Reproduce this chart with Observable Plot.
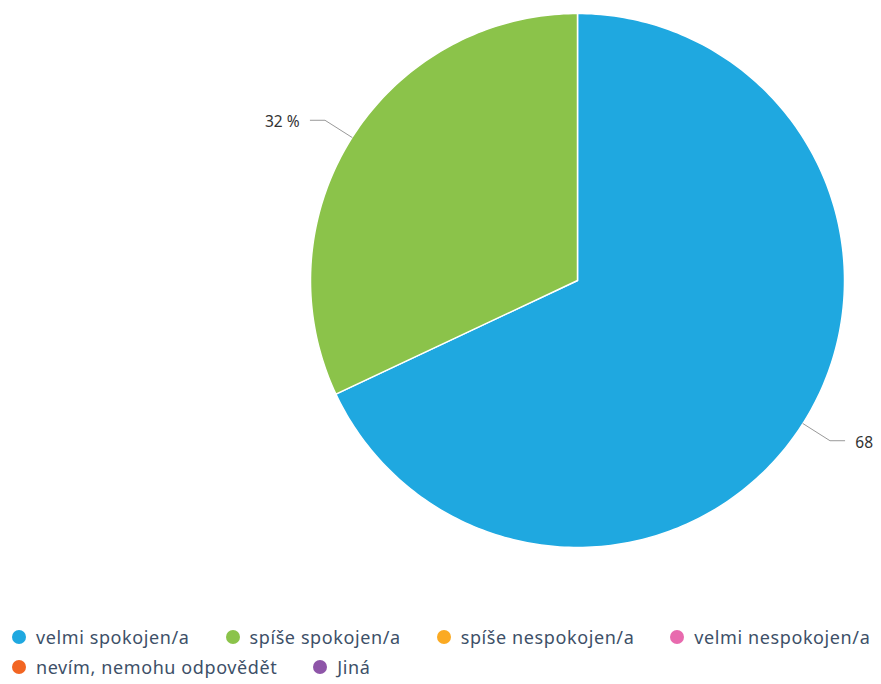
<!DOCTYPE html>
<html><head><meta charset="utf-8">
<script src="https://cdn.jsdelivr.net/npm/d3@7"></script>
<script src="https://cdn.jsdelivr.net/npm/@observablehq/plot@0.6"></script>
<style>
body{margin:0;background:#fff;font-family:"Noto Sans",sans-serif;}
#wrap{position:relative;width:881px;}
#legend{padding-left:12px;margin-top:22px;}
.row{display:flex;column-gap:36px;white-space:nowrap;}
.item{display:flex;align-items:center;height:30px;font-size:18px;letter-spacing:0.6px;color:#3d5068;white-space:nowrap;}
.dot{width:14px;height:14px;border-radius:50%;margin-right:10px;flex:none;}
</style></head><body>
<div id="wrap"><div id="chart"></div><div id="legend"></div></div>
<script>
const categories = ["velmi spokojen/a","spíše spokojen/a","spíše nespokojen/a","velmi nespokojen/a","nevím, nemohu odpovědět","Jiná"];
const values = [68, 32, 0, 0, 0, 0];
const labels = ["68", "32 %", "", "", "", ""];
const colors = ["#1fa8e0","#8bc34a","#fbaa22","#e86aae","#f26522","#8e55a8"];
const legendRows = [[0,1,2,3],[4,5]];

const pie = d3.pie().sort(null).value(d => d.value)(categories.map((c,i)=>({cat:c,value:values[i],label:labels[i]})));
const rows = [];
const lead = [];
const texts = [];
pie.forEach(p => {
  if (p.endAngle - p.startAngle <= 0) return;
  const c = p.data.cat;
  rows.push({cat:c, x:0, y:0});
  const n = Math.max(2, Math.ceil((p.endAngle - p.startAngle) * 180 / Math.PI));
  for (let k = 0; k <= n; k++) {
    const a = p.startAngle + (p.endAngle - p.startAngle) * k / n;
    rows.push({cat:c, x:Math.sin(a), y:Math.cos(a)});
  }
  const m = (p.startAngle + p.endAngle) / 2;
  const sx = Math.sin(m), sy = Math.cos(m);
  const side = sx >= 0 ? 1 : -1;
  const r1 = 1.12;
  const p1 = {x: sx*r1, y: sy*r1};
  const p2 = {x: p1.x + side*0.055, y: p1.y};
  lead.push({cat:c, x:sx, y:sy},{cat:c, x:p1.x, y:p1.y},{cat:c, x:p2.x, y:p2.y});
  texts.push({x:p2.x + side*0.04, y:p2.y - 0.008, label:p.data.label, anchor: side>0?"start":"end"});
});

const chart = Plot.plot({
  width: 881, height: 600,
  x: {domain:[-1,1], range:[310,844], axis:null},
  y: {domain:[-1,1], range:[547,13], axis:null},
  color: {domain: categories, range: colors},
  marks: [
    Plot.line(rows, {x:"x", y:"y", z:"cat", fill:"cat", stroke:"white", strokeWidth:1.5, curve:"linear-closed"}),
    Plot.line(lead, {x:"x", y:"y", z:"cat", stroke:"#999", strokeWidth:1}),
    Plot.text(texts.filter(t=>t.anchor==="start"), {x:"x", y:"y", text:"label", textAnchor:"start", fontSize:15.5, fill:"#333"}),
    Plot.text(texts.filter(t=>t.anchor==="end"), {x:"x", y:"y", text:"label", textAnchor:"end", fontSize:15.5, fill:"#333"})
  ],
  style: {fontFamily:"Noto Sans, sans-serif", background:"white"}
});
document.getElementById("chart").appendChild(chart);

const lg = document.getElementById("legend");
legendRows.forEach(r => {
  const row = document.createElement("div"); row.className = "row";
  r.forEach(i => {
    const it = document.createElement("div"); it.className = "item";
    const d = document.createElement("span"); d.className = "dot"; d.style.background = colors[i];
    it.appendChild(d); it.appendChild(document.createTextNode(categories[i]));
    row.appendChild(it);
  });
  lg.appendChild(row);
});
</script></body></html>
